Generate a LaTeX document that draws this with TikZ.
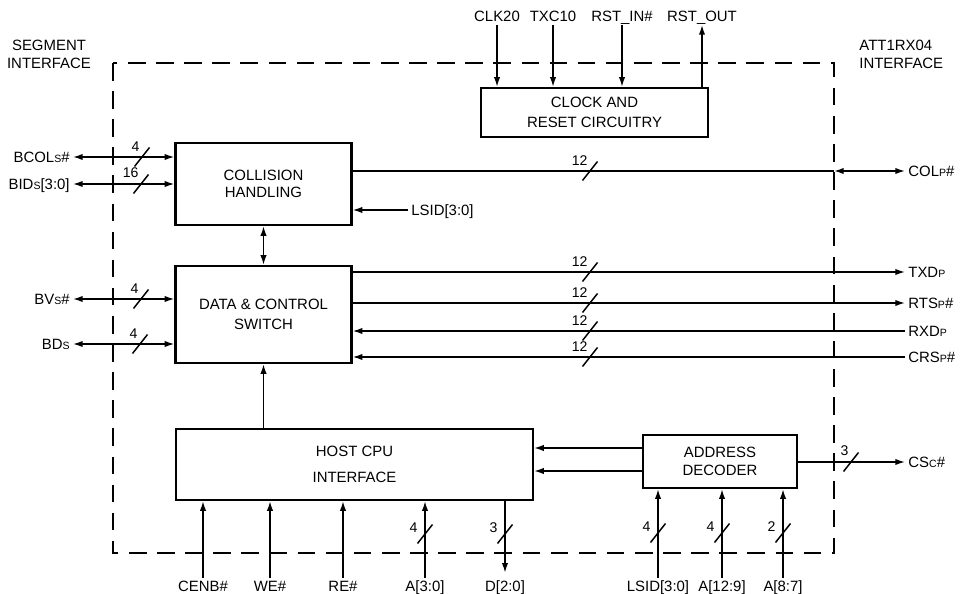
\documentclass[tikz,border=0pt]{standalone}
\usepackage{fontspec}
\setmainfont{Liberation Sans}
\usetikzlibrary{arrows.meta}
\newcommand{\lowc}[1]{{\fontsize{6}{6}\selectfont #1}}

\begin{document}
\begin{tikzpicture}[
  x=0.02cm,y=-0.02cm,
  font=\fontsize{8.5}{10}\selectfont,
  line width=0.85pt,
  >={Latex[length=5.5pt,width=3.6pt]},
  blk/.style={draw, line width=1.35pt, align=center, inner sep=0pt},
  lbl/.style={inner sep=1.5pt, text height=6pt, text depth=0.3pt},
  border/.style={line width=1.1pt, dash pattern=on 10pt off 6pt},
  buslbl/.style={inner sep=0pt, label distance=0pt, font=\fontsize{8}{9}\selectfont},
  bus/.style={inner sep=0pt, minimum size=0pt,
              append after command={(\tikzlastnode.center) ++(-0.15cm,-0.19cm) edge[-, line width=0.85pt] ++(0.3cm,0.38cm)}},
  hbus/.style={bus, label={[buslbl, xshift=-0.02cm, yshift=0.09cm]above left:#1}},
  vbus/.style={bus, label={[buslbl, xshift=-0.12cm, yshift=0.13cm]left:#1}}
]
  \useasboundingbox (0,0) rectangle (963,594);

  % chip boundary
  \coordinate (bnw) at (113,63);
  \coordinate (bse) at (834,553);
  \draw[border] (bnw) rectangle (bse);
  \node[lbl, align=center] (segif) at (49,63) {SEGMENT\\INTERFACE};
  \node[lbl, align=left, anchor=west] (attif) at (856,63) {ATT1RX04\\INTERFACE};

  % blocks
  \node[blk, minimum width=3.52cm, minimum height=1.64cm] (coll) at (263.5,184) {COLLISION\\HANDLING};
  \node[blk, minimum width=4.54cm, minimum height=0.98cm] (clkbox) at (594.5,112.5) {CLOCK AND\\[1.5pt]RESET CIRCUITRY};
  \node[blk, minimum width=3.52cm, minimum height=1.94cm] (sw) at (263.5,314.5) {DATA \& CONTROL\\[1.3pt]SWITCH};
  \node[blk, minimum width=7.14cm, minimum height=1.42cm] (host) at (354.5,464.5) {HOST CPU\\[4.7pt]INTERFACE};
  \node[blk, minimum width=3.08cm, minimum height=1.06cm] (dec) at (720,461.5) {ADDRESS\\DECODER};

  % segment side
  \node[lbl, anchor=east] (bcols) at (73,157) {BCOL\lowc{S}\#};
  \node[lbl, anchor=east] (bids) at (73,184) {BID\lowc{S}[3:0]};
  \node[lbl, anchor=east] (bvs) at (73,299) {BV\lowc{S}\#};
  \node[lbl, anchor=east] (bds) at (73,344) {BD\lowc{S}};
  \draw[<->] (bcols) -- (bcols -| coll.west);
  \draw[<->] (bids) -- (bids -| coll.west);
  \draw[<->] (bvs) -- (bvs -| sw.west);
  \draw[<->] (bds) -- (bds -| sw.west);
  \node[hbus=4] (w1) at (142,157) {};
  \node[hbus=16] (w2) at (141,184) {};
  \node[hbus=4] (w3) at (141,299) {};
  \node[hbus=4] (w4) at (140,344) {};

  % clock inputs
  \node[lbl, anchor=south] (clk20) at (497,25) {CLK20};
  \node[lbl, anchor=south] (txc10) at (553,25) {TXC10};
  \node[lbl, anchor=south] (rstin) at (622,25) {RST\_IN\#};
  \node[lbl, anchor=south] (rstout) at (702,25) {RST\_OUT};
  \draw[->] (clk20) -- (clk20 |- clkbox.north);
  \draw[->] (txc10) -- (txc10 |- clkbox.north);
  \draw[->] (rstin) -- (rstin |- clkbox.north);
  \draw[->] (clkbox.north -| rstout) -- (rstout);

  % inner links
  \node[lbl, anchor=west] (lsidc) at (408,210) {LSID[3:0]};
  \draw[->] (lsidc) -- (lsidc -| coll.east);
  \draw[<->] (coll.south) -- (sw.north);
  \draw[->] (host.north -| sw) -- (sw.south);
  \coordinate (d1) at ([yshift=0.27cm]dec.west);
  \coordinate (d2) at ([yshift=-0.19cm]dec.west);
  \draw[->] (d1) -- (d1 -| host.east);
  \draw[->] (d2) -- (d2 -| host.east);

  % ATT1RX04 side
  \node[lbl, anchor=west] (colp) at (905,171) {COL\lowc{P}\#};
  \node[lbl, anchor=west] (txd) at (905,272) {TXD\lowc{P}};
  \node[lbl, anchor=west] (rts) at (905,303) {RTS\lowc{P}\#};
  \node[lbl, anchor=west] (rxd) at (905,331) {RXD\lowc{P}};
  \node[lbl, anchor=west] (crs) at (905,357) {CRS\lowc{P}\#};
  \node[lbl, anchor=west] (csc) at (905,462) {CS\lowc{C}\#};
  \draw (coll.east |- colp) -- (colp -| bse);
  \draw[<->] (colp -| bse) -- (colp);
  \draw[->] (sw.east |- txd) -- (txd);
  \draw[->] (sw.east |- rts) -- (rts);
  \draw[->] (rxd) -- (rxd -| sw.east);
  \draw[->] (crs) -- (crs -| sw.east);
  \draw[->] (dec.east |- csc) -- (csc);
  \node[hbus=12] (w5) at (590,171) {};
  \node[hbus=12] (w6) at (590,272) {};
  \node[hbus=12] (w7) at (590,303) {};
  \node[hbus=12] (w8) at (590,331) {};
  \node[hbus=12] (w9) at (590,357) {};
  \node[hbus=3] (w10) at (851,462) {};

  % host bus
  \node[lbl, anchor=north] (cenb) at (203,578) {CENB\#};
  \node[lbl, anchor=north] (we) at (270,578) {WE\#};
  \node[lbl, anchor=north] (re) at (343,578) {RE\#};
  \node[lbl, anchor=north] (alo) at (425,578) {A[3:0]};
  \node[lbl, anchor=north] (dout) at (505,578) {D[2:0]};
  \node[lbl, anchor=north] (lsid) at (658,578) {LSID[3:0]};
  \node[lbl, anchor=north] (amid) at (722,578) {A[12:9]};
  \node[lbl, anchor=north] (ahi) at (783,578) {A[8:7]};
  \draw[->] (cenb) -- (cenb |- host.south);
  \draw[->] (we) -- (we |- host.south);
  \draw[->] (re) -- (re |- host.south);
  \draw[->] (alo) -- (alo |- host.south);
  \draw[->, shorten >=3pt] (host.south -| dout) -- (dout);
  \draw[->] (lsid) -- (lsid |- dec.south);
  \draw[->] (amid) -- (amid |- dec.south);
  \draw[->] (ahi) -- (ahi |- dec.south);
  \node[vbus=4] (w11) at (425,534) {};
  \node[vbus=3] (w12) at (505,534) {};
  \node[vbus=4] (w13) at (658,533) {};
  \node[vbus=4] (w14) at (722,533) {};
  \node[vbus=2] (w15) at (783,533) {};
\end{tikzpicture}
\end{document}
